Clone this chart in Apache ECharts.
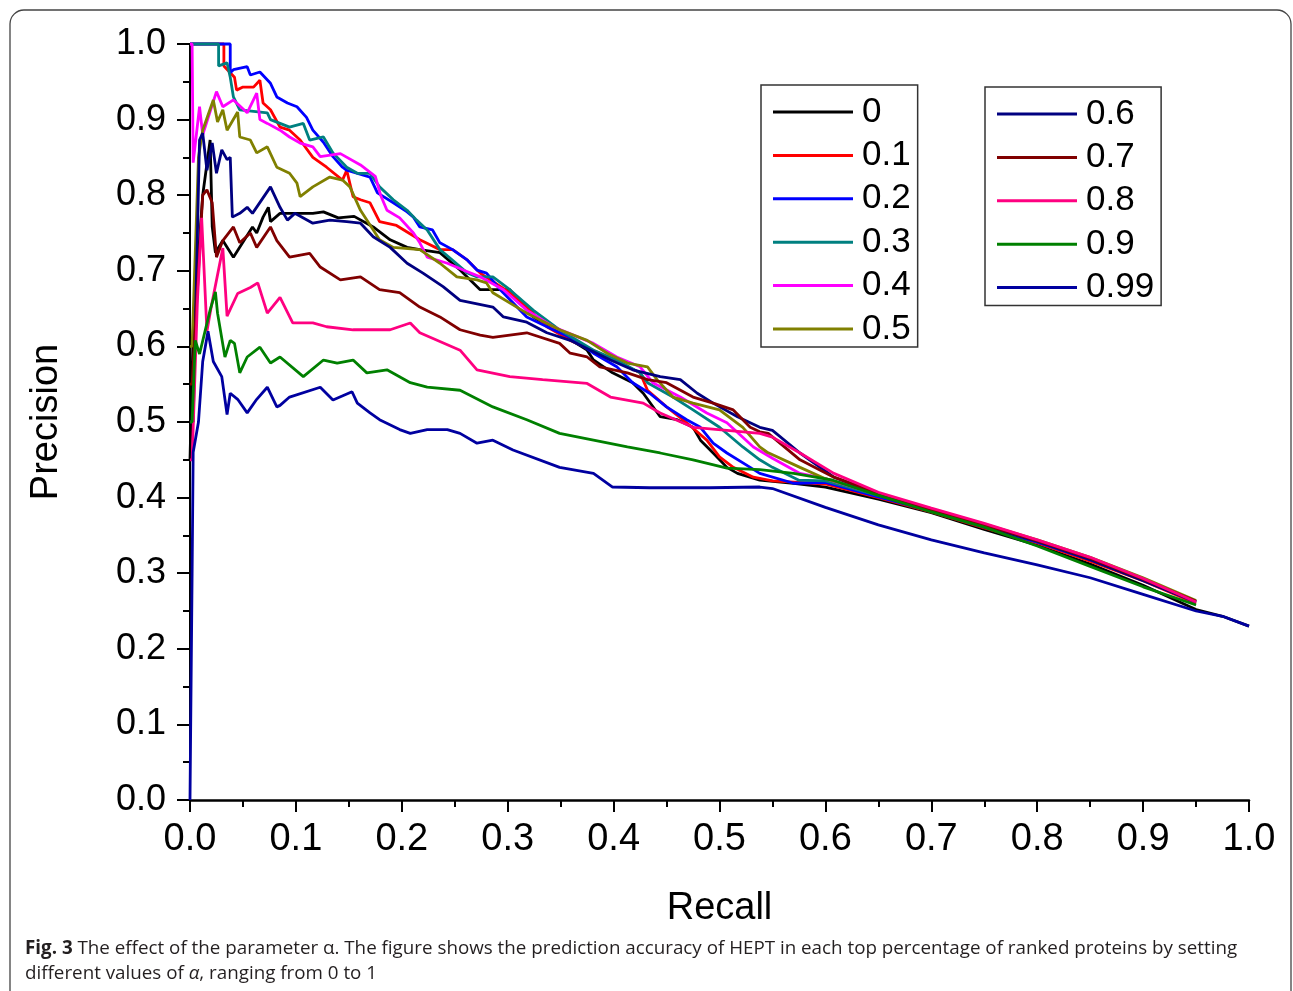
<!DOCTYPE html>
<html>
<head>
<meta charset="utf-8">
<script src="https://cdn.jsdelivr.net/npm/echarts@6/dist/echarts.min.js"></script>
<style>
  html, body { margin: 0; padding: 0; background: #fff; }
  #chart { width: 1293px; height: 991px; }
</style>
</head>
<body>
<div id="chart"></div>
<script>
// alpha values (series names) and their colours
const alphaNames = ["0", "0.1", "0.2", "0.3", "0.4", "0.5", "0.6", "0.7", "0.8", "0.9", "0.99"];
const alphaColors = ["#000000", "#ff0000", "#0000ff", "#008080", "#ff00ff", "#808000",
                     "#000080", "#800000", "#ff0080", "#008000", "#0000a0"];
const xTicks = [0, 0.1, 0.2, 0.3, 0.4, 0.5, 0.6, 0.7, 0.8, 0.9, 1.0];
const yTicks = [0, 0.1, 0.2, 0.3, 0.4, 0.5, 0.6, 0.7, 0.8, 0.9, 1.0];

// [recall, precision]
const pr00 = [[0,0.45],[0.003,0.62],[0.012,0.80],[0.019,0.873],[0.021,0.758],[0.024,0.724],[0.031,0.74],[0.041,0.718],[0.059,0.758],[0.063,0.75],[0.069,0.771],[0.074,0.784],[0.076,0.765],[0.085,0.776],[0.101,0.776],[0.116,0.776],[0.126,0.778],[0.14,0.77],[0.155,0.772],[0.173,0.758],[0.189,0.741],[0.205,0.731],[0.217,0.728],[0.236,0.724],[0.255,0.701],[0.274,0.675],[0.302,0.675],[0.324,0.639],[0.349,0.618],[0.375,0.595],[0.381,0.582],[0.399,0.565],[0.418,0.552],[0.428,0.538],[0.444,0.507],[0.46,0.503],[0.475,0.493],[0.482,0.476],[0.494,0.459],[0.507,0.44],[0.517,0.432],[0.538,0.423],[0.57,0.419],[0.6,0.414],[0.65,0.398],[0.7,0.38],[0.75,0.358],[0.8,0.337],[0.85,0.312],[0.9,0.284],[0.95,0.252],[0.975,0.243],[1.0,0.23]];
const pr01 = [[0,1],[0.032,1],[0.032,0.971],[0.042,0.956],[0.044,0.939],[0.05,0.943],[0.06,0.943],[0.066,0.952],[0.069,0.922],[0.076,0.913],[0.085,0.89],[0.094,0.886],[0.104,0.873],[0.116,0.85],[0.129,0.837],[0.144,0.82],[0.148,0.833],[0.154,0.798],[0.161,0.794],[0.17,0.79],[0.179,0.765],[0.195,0.76],[0.217,0.741],[0.236,0.728],[0.248,0.728],[0.262,0.714],[0.271,0.701],[0.274,0.697],[0.302,0.671],[0.318,0.652],[0.337,0.626],[0.359,0.608],[0.387,0.591],[0.413,0.573],[0.425,0.565],[0.432,0.542],[0.45,0.52],[0.469,0.499],[0.488,0.476],[0.5,0.454],[0.513,0.44],[0.532,0.427],[0.55,0.422],[0.6,0.418],[0.65,0.4],[0.7,0.381],[0.75,0.36],[0.8,0.34],[0.85,0.316],[0.9,0.29],[0.95,0.26]];
const pr02 = [[0,1],[0.038,1],[0.038,0.962],[0.041,0.966],[0.054,0.97],[0.057,0.959],[0.066,0.963],[0.076,0.948],[0.082,0.93],[0.092,0.922],[0.101,0.917],[0.11,0.903],[0.116,0.886],[0.126,0.87],[0.135,0.851],[0.144,0.837],[0.148,0.833],[0.17,0.824],[0.177,0.803],[0.192,0.79],[0.205,0.778],[0.211,0.771],[0.217,0.758],[0.229,0.754],[0.236,0.737],[0.248,0.728],[0.262,0.714],[0.271,0.701],[0.28,0.697],[0.293,0.675],[0.318,0.639],[0.343,0.622],[0.359,0.612],[0.381,0.591],[0.403,0.573],[0.418,0.552],[0.434,0.538],[0.45,0.52],[0.469,0.503],[0.482,0.493],[0.494,0.472],[0.507,0.459],[0.529,0.44],[0.538,0.432],[0.57,0.419],[0.6,0.42],[0.65,0.401],[0.7,0.382],[0.75,0.361],[0.8,0.341],[0.85,0.318],[0.9,0.291],[0.95,0.262]];
const pr03 = [[0,1],[0.027,1],[0.027,0.971],[0.035,0.975],[0.038,0.956],[0.041,0.93],[0.047,0.913],[0.073,0.909],[0.076,0.9],[0.085,0.895],[0.094,0.89],[0.107,0.895],[0.113,0.873],[0.126,0.877],[0.135,0.856],[0.148,0.837],[0.158,0.829],[0.17,0.829],[0.179,0.811],[0.192,0.794],[0.205,0.78],[0.214,0.767],[0.224,0.754],[0.236,0.728],[0.248,0.714],[0.262,0.697],[0.271,0.692],[0.286,0.692],[0.302,0.675],[0.324,0.648],[0.349,0.622],[0.381,0.595],[0.403,0.582],[0.425,0.565],[0.432,0.552],[0.456,0.533],[0.475,0.516],[0.5,0.493],[0.522,0.467],[0.538,0.45],[0.55,0.44],[0.575,0.423],[0.6,0.422],[0.65,0.403],[0.7,0.384],[0.75,0.363],[0.8,0.342],[0.85,0.319],[0.9,0.292],[0.95,0.263]];
const pr04 = [[0,1],[0.002,1],[0.003,0.843],[0.009,0.917],[0.012,0.88],[0.025,0.937],[0.031,0.917],[0.041,0.926],[0.054,0.909],[0.063,0.935],[0.066,0.9],[0.073,0.895],[0.085,0.886],[0.094,0.877],[0.104,0.869],[0.116,0.864],[0.123,0.851],[0.142,0.855],[0.161,0.84],[0.175,0.825],[0.18,0.8],[0.186,0.78],[0.198,0.77],[0.211,0.75],[0.217,0.737],[0.224,0.718],[0.243,0.71],[0.258,0.701],[0.274,0.692],[0.296,0.675],[0.318,0.648],[0.343,0.626],[0.381,0.604],[0.403,0.586],[0.425,0.573],[0.437,0.552],[0.463,0.533],[0.488,0.512],[0.507,0.499],[0.532,0.467],[0.55,0.452],[0.576,0.432],[0.6,0.425],[0.65,0.404],[0.7,0.383],[0.75,0.362],[0.8,0.343],[0.85,0.32],[0.9,0.293],[0.95,0.262]];
const pr05 = [[0,0.6],[0.002,0.6],[0.008,0.85],[0.012,0.886],[0.022,0.926],[0.026,0.897],[0.031,0.913],[0.035,0.886],[0.045,0.91],[0.047,0.877],[0.057,0.873],[0.063,0.856],[0.073,0.864],[0.082,0.837],[0.094,0.829],[0.101,0.816],[0.104,0.798],[0.116,0.811],[0.132,0.824],[0.144,0.82],[0.151,0.811],[0.161,0.78],[0.179,0.741],[0.192,0.731],[0.217,0.728],[0.236,0.71],[0.252,0.692],[0.271,0.688],[0.28,0.684],[0.286,0.671],[0.318,0.644],[0.349,0.622],[0.375,0.608],[0.394,0.591],[0.413,0.578],[0.432,0.573],[0.441,0.556],[0.456,0.533],[0.475,0.525],[0.5,0.516],[0.522,0.493],[0.538,0.467],[0.545,0.46],[0.576,0.44],[0.6,0.425],[0.65,0.405],[0.7,0.385],[0.75,0.365],[0.8,0.344],[0.85,0.321],[0.9,0.294],[0.95,0.264]];
const pr06 = [[0,0.5],[0.003,0.5],[0.009,0.873],[0.012,0.882],[0.016,0.833],[0.021,0.869],[0.025,0.829],[0.03,0.86],[0.035,0.847],[0.038,0.85],[0.04,0.771],[0.047,0.776],[0.054,0.784],[0.059,0.776],[0.076,0.811],[0.085,0.784],[0.092,0.767],[0.099,0.776],[0.116,0.763],[0.132,0.767],[0.148,0.765],[0.161,0.763],[0.173,0.745],[0.189,0.731],[0.205,0.71],[0.22,0.697],[0.239,0.679],[0.255,0.661],[0.286,0.652],[0.296,0.639],[0.318,0.632],[0.337,0.618],[0.359,0.608],[0.397,0.582],[0.418,0.569],[0.444,0.56],[0.463,0.556],[0.479,0.538],[0.494,0.525],[0.517,0.507],[0.538,0.493],[0.55,0.489],[0.576,0.459],[0.608,0.427],[0.65,0.405],[0.7,0.383],[0.75,0.362],[0.8,0.342],[0.85,0.318],[0.9,0.29],[0.95,0.262]];
const pr07 = [[0,0.55],[0.002,0.55],[0.012,0.8],[0.016,0.807],[0.021,0.79],[0.025,0.718],[0.031,0.74],[0.041,0.758],[0.047,0.737],[0.057,0.75],[0.063,0.731],[0.076,0.758],[0.082,0.74],[0.094,0.718],[0.113,0.723],[0.123,0.705],[0.142,0.688],[0.161,0.692],[0.179,0.675],[0.198,0.671],[0.217,0.652],[0.236,0.639],[0.255,0.622],[0.274,0.615],[0.286,0.612],[0.318,0.618],[0.349,0.604],[0.359,0.591],[0.375,0.586],[0.387,0.573],[0.413,0.565],[0.432,0.556],[0.45,0.552],[0.475,0.533],[0.494,0.525],[0.513,0.516],[0.529,0.493],[0.538,0.487],[0.546,0.485],[0.576,0.45],[0.608,0.427],[0.65,0.406],[0.7,0.384],[0.75,0.364],[0.8,0.343],[0.85,0.32],[0.9,0.292],[0.95,0.263]];
const pr08 = [[0,0.45],[0.002,0.45],[0.007,0.66],[0.011,0.77],[0.016,0.62],[0.02,0.652],[0.031,0.73],[0.035,0.64],[0.045,0.67],[0.057,0.678],[0.064,0.684],[0.073,0.644],[0.085,0.665],[0.097,0.631],[0.116,0.631],[0.129,0.626],[0.154,0.622],[0.189,0.622],[0.208,0.631],[0.217,0.618],[0.255,0.595],[0.271,0.569],[0.302,0.56],[0.333,0.556],[0.375,0.551],[0.397,0.533],[0.428,0.525],[0.444,0.512],[0.475,0.493],[0.507,0.489],[0.538,0.485],[0.55,0.48],[0.576,0.459],[0.608,0.432],[0.65,0.407],[0.7,0.386],[0.75,0.366],[0.8,0.344],[0.85,0.321],[0.9,0.293],[0.95,0.262]];
const pr09 = [[0,0.5],[0.002,0.5],[0.005,0.608],[0.009,0.59],[0.019,0.648],[0.024,0.672],[0.026,0.644],[0.033,0.586],[0.038,0.608],[0.042,0.604],[0.047,0.565],[0.054,0.586],[0.066,0.599],[0.076,0.578],[0.085,0.586],[0.107,0.56],[0.126,0.582],[0.139,0.578],[0.154,0.582],[0.167,0.565],[0.186,0.569],[0.208,0.552],[0.224,0.546],[0.255,0.542],[0.286,0.52],[0.318,0.503],[0.349,0.485],[0.381,0.476],[0.413,0.467],[0.444,0.459],[0.475,0.45],[0.507,0.439],[0.538,0.437],[0.57,0.432],[0.607,0.423],[0.65,0.403],[0.7,0.381],[0.75,0.361],[0.8,0.336],[0.85,0.309],[0.9,0.282],[0.95,0.258]];
const pr099 = [[0,0],[0.002,0.3],[0.003,0.46],[0.008,0.5],[0.012,0.58],[0.017,0.62],[0.022,0.58],[0.03,0.56],[0.035,0.51],[0.038,0.538],[0.045,0.53],[0.054,0.512],[0.063,0.53],[0.073,0.546],[0.082,0.52],[0.085,0.522],[0.094,0.533],[0.123,0.546],[0.135,0.529],[0.153,0.54],[0.158,0.525],[0.17,0.512],[0.179,0.503],[0.198,0.49],[0.208,0.485],[0.224,0.49],[0.243,0.49],[0.255,0.485],[0.271,0.472],[0.286,0.476],[0.305,0.463],[0.349,0.44],[0.381,0.432],[0.399,0.414],[0.434,0.413],[0.491,0.413],[0.538,0.414],[0.55,0.412],[0.6,0.387],[0.65,0.364],[0.7,0.344],[0.75,0.327],[0.8,0.311],[0.85,0.294],[0.9,0.272],[0.95,0.25],[0.975,0.243],[1.0,0.23]];

const curves = [pr00, pr01, pr02, pr03, pr04, pr05, pr06, pr07, pr08, pr09, pr099];

const chart = echarts.init(document.getElementById("chart"));

const axisFont = '"Liberation Sans", Arial, sans-serif';
const captionFont = '"Open Sans", sans-serif';

const legendBase = {
  orient: "vertical",
  icon: "rect",
  itemWidth: 80,
  itemHeight: 3,
  itemGap: 7.4,
  padding: [9, 7, 0, 12],
  borderColor: "#333",
  borderWidth: 1.5,
  backgroundColor: "#fff",
  selectedMode: false,
  textStyle: { fontFamily: axisFont, fontSize: 35, color: "#000", lineHeight: 36, padding: [0, 0, 0, 4] },
};

chart.setOption({
  animation: false,
  backgroundColor: "#fff",
  grid: { left: 190, right: 44, top: 44, bottom: 191 },
  legend: [
    Object.assign({}, legendBase, { left: 761, top: 85, data: alphaNames.slice(0, 6) }),
    Object.assign({}, legendBase, { left: 985, top: 87, data: alphaNames.slice(6) }),
  ],
  xAxis: {
    type: "value",
    min: xTicks[0],
    max: xTicks[xTicks.length - 1],
    interval: 0.1,
    name: "Recall",
    nameLocation: "middle",
    nameGap: 90,
    nameTextStyle: { fontFamily: axisFont, fontSize: 38, color: "#000" },
    axisLine: { lineStyle: { color: "#000", width: 2.5 } },
    axisTick: { length: 12, lineStyle: { color: "#000", width: 2 } },
    minorTick: { show: true, splitNumber: 2, length: 7, lineStyle: { color: "#000", width: 2 } },
    splitLine: { show: false },
    axisLabel: {
      margin: 21,
      fontFamily: axisFont,
      fontSize: 38,
      color: "#000",
      formatter: (v) => v.toFixed(1),
    },
  },
  yAxis: {
    type: "value",
    min: yTicks[0],
    max: yTicks[yTicks.length - 1],
    interval: 0.1,
    name: "Precision",
    nameLocation: "middle",
    nameGap: 124,
    nameTextStyle: { fontFamily: axisFont, fontSize: 38, color: "#000" },
    axisLine: { show: true, lineStyle: { color: "#000", width: 2 } },
    axisTick: { show: true, length: 13, lineStyle: { color: "#000", width: 2 } },
    minorTick: { show: true, splitNumber: 2, length: 7, lineStyle: { color: "#000", width: 2 } },
    splitLine: { show: false },
    axisLabel: {
      margin: 24,
      fontFamily: axisFont,
      fontSize: 36,
      color: "#000",
      formatter: (v) => v.toFixed(1),
    },
  },
  series: alphaNames.map((name, i) => ({
    name: name,
    type: "line",
    data: curves[i],
    showSymbol: false,
    symbol: "none",
    clip: false,
    color: alphaColors[i],
    lineStyle: { color: alphaColors[i], width: 2.8 },
    z: 2 + i * 0.01,
  })),
  graphic: [
    {
      type: "rect",
      shape: { x: 10, y: 10, width: 1281, height: 1020, r: 14 },
      style: { fill: "none", stroke: "#444", lineWidth: 1.3 },
      silent: true,
    },
    {
      type: "text",
      left: 25,
      top: 939,
      style: {
        text: "{b|Fig. 3} The effect of the parameter α. The figure shows the prediction accuracy of HEPT in each top percentage of ranked proteins by setting",
        fontFamily: captionFont,
        fontSize: 18.8,
        fill: "#231f20",
        rich: { b: { fontWeight: "bold", fontFamily: captionFont, fontSize: 18.8, fill: "#231f20" } },
      },
    },
    {
      type: "text",
      left: 25,
      top: 964,
      style: {
        text: "different values of {i|α}, ranging from 0 to 1",
        fontFamily: captionFont,
        fontSize: 18.8,
        fill: "#231f20",
        rich: { i: { fontStyle: "italic", fontFamily: captionFont, fontSize: 18.8, fill: "#231f20" } },
      },
    },
  ],
});
</script>
</body>
</html>
